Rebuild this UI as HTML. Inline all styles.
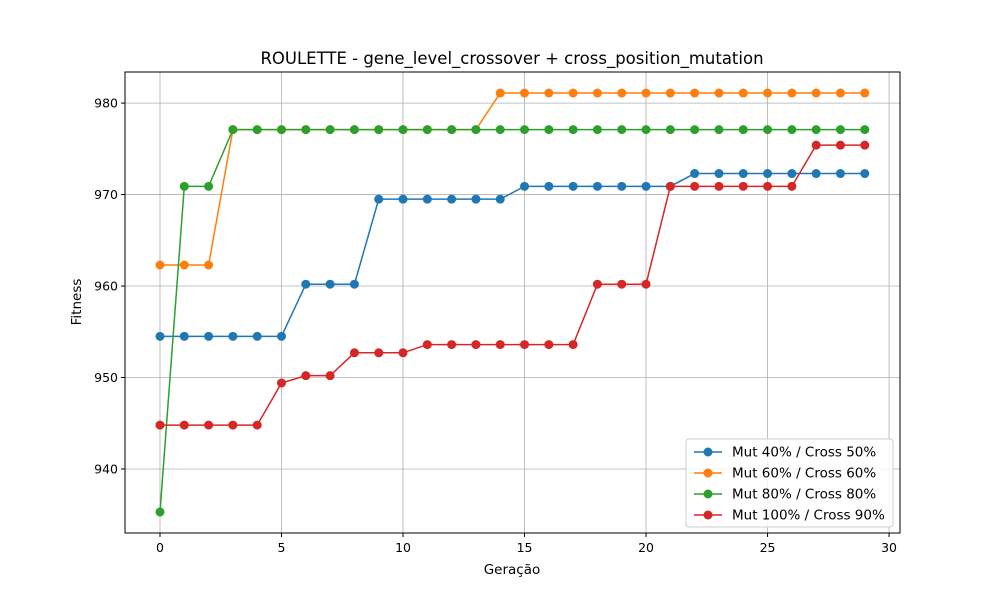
<!DOCTYPE html>
<html><head><meta charset="utf-8">
<style>
body{margin:0;background:#fff;}
svg{font-family:"DejaVu Sans","Liberation Sans",sans-serif;}
</style></head>
<body>
<svg id="chart" width="1000" height="600" viewBox="0 0 1000 600" xmlns="http://www.w3.org/2000/svg">
<rect width="1000" height="600" fill="#fff"/>
<text x="512" y="64" text-anchor="middle" font-size="16.5">ROULETTE - gene_level_crossover + cross_position_mutation</text>
<g id="grid"></g>
<g id="series"></g>
<rect x="125" y="72" width="775" height="461" fill="none" stroke="#000" stroke-width="1"/>
<g id="ticks"></g>
<text x="512" y="574" text-anchor="middle" font-size="13.5">Geração</text>
<text transform="translate(81,302) rotate(-90)" text-anchor="middle" font-size="13.5">Fitness</text>
<g id="legend"></g>
</svg>
<script>
const generations = Array.from({length:30},(_,i)=>i);
const seriesNames = ["Mut 40% / Cross 50%","Mut 60% / Cross 60%","Mut 80% / Cross 80%","Mut 100% / Cross 90%"];
const seriesColors = ["#1f77b4","#ff7f0e","#2ca02c","#d62728"];
const blueValues = [954.5,954.5,954.5,954.5,954.5,954.5,960.2,960.2,960.2,969.5,969.5,969.5,969.5,969.5,969.5,970.9,970.9,970.9,970.9,970.9,970.9,970.9,972.3,972.3,972.3,972.3,972.3,972.3,972.3,972.3];
const orangeValues = [962.3,962.3,962.3,977.1,977.1,977.1,977.1,977.1,977.1,977.1,977.1,977.1,977.1,977.1,981.1,981.1,981.1,981.1,981.1,981.1,981.1,981.1,981.1,981.1,981.1,981.1,981.1,981.1,981.1,981.1];
const greenValues = [935.3,970.9,970.9,977.1,977.1,977.1,977.1,977.1,977.1,977.1,977.1,977.1,977.1,977.1,977.1,977.1,977.1,977.1,977.1,977.1,977.1,977.1,977.1,977.1,977.1,977.1,977.1,977.1,977.1,977.1];
const redValues = [944.8,944.8,944.8,944.8,944.8,949.4,950.2,950.2,952.7,952.7,952.7,953.6,953.6,953.6,953.6,953.6,953.6,953.6,960.2,960.2,960.2,970.9,970.9,970.9,970.9,970.9,970.9,975.4,975.4,975.4];
const xTicks = [0,5,10,15,20,25,30];
const yTicks = [940,950,960,970,980];

const NS="http://www.w3.org/2000/svg";
const X0=125,X1=900,Y0=72,Y1=533;
const xMin=-1.44,xMax=30.45,yMin=933.0,yMax=983.4;
const xs=v=>X0+(v-xMin)/(xMax-xMin)*(X1-X0);
const ys=v=>Y1-(v-yMin)/(yMax-yMin)*(Y1-Y0);
function mk(tag,attrs,parent){const e=document.createElementNS(NS,tag);for(const k in attrs)e.setAttribute(k,attrs[k]);parent.appendChild(e);return e;}
const grid=document.getElementById('grid'),ticks=document.getElementById('ticks');
xTicks.forEach(t=>{
  const g=mk('line',{x1:xs(t),x2:xs(t),y1:Y0,y2:Y1,stroke:'#b0b0b0','stroke-width':0.8},grid);
  
  
  mk('line',{x1:xs(t),x2:xs(t),y1:Y1,y2:Y1+4,stroke:'#000'},ticks);
  const l=mk('text',{x:xs(t),y:Y1+19,'text-anchor':'middle','font-size':12.5},ticks);
  l.textContent=t;
  
  
});
yTicks.forEach(t=>{
  const g=mk('line',{x1:X0,x2:X1,y1:ys(t),y2:ys(t),stroke:'#b0b0b0','stroke-width':0.8},grid);
  
  
  mk('line',{x1:X0-4,x2:X0,y1:ys(t),y2:ys(t),stroke:'#000'},ticks);
  const l=mk('text',{x:X0-7,y:ys(t)+4.5,'text-anchor':'end','font-size':12.5},ticks);
  l.textContent=t;
  
  
});
const all=[blueValues,orangeValues,greenValues,redValues];
const sg=document.getElementById('series');
all.forEach((vals,i)=>{
  const g=mk('g',{},sg);
  
  
  const p=mk('polyline',{points:vals.map((v,j)=>xs(generations[j])+','+ys(v)).join(' '),fill:'none',stroke:seriesColors[i],'stroke-width':1.5},g);
  
  
  vals.forEach((v,j)=>{
    const c=mk('circle',{cx:xs(generations[j]),cy:ys(v),r:4.5,fill:seriesColors[i]},g);
    
    
  });
});
const lg=document.getElementById('legend');


mk('rect',{x:686,y:439,width:207,height:88,rx:3,fill:'#fff','fill-opacity':0.85,stroke:'#ccc'},lg);
seriesNames.forEach((n,i)=>{
  const y=452+i*21;
  const e=mk('g',{},lg);
  
  
  mk('line',{x1:694,x2:722,y1:y,y2:y,stroke:seriesColors[i],'stroke-width':1.5},e);
  mk('circle',{cx:708,cy:y,r:4.5,fill:seriesColors[i]},e);
  const t=mk('text',{x:732,y:y+4.5,'font-size':13.5},e);
  t.textContent=n;
});
</script>
</body></html>
